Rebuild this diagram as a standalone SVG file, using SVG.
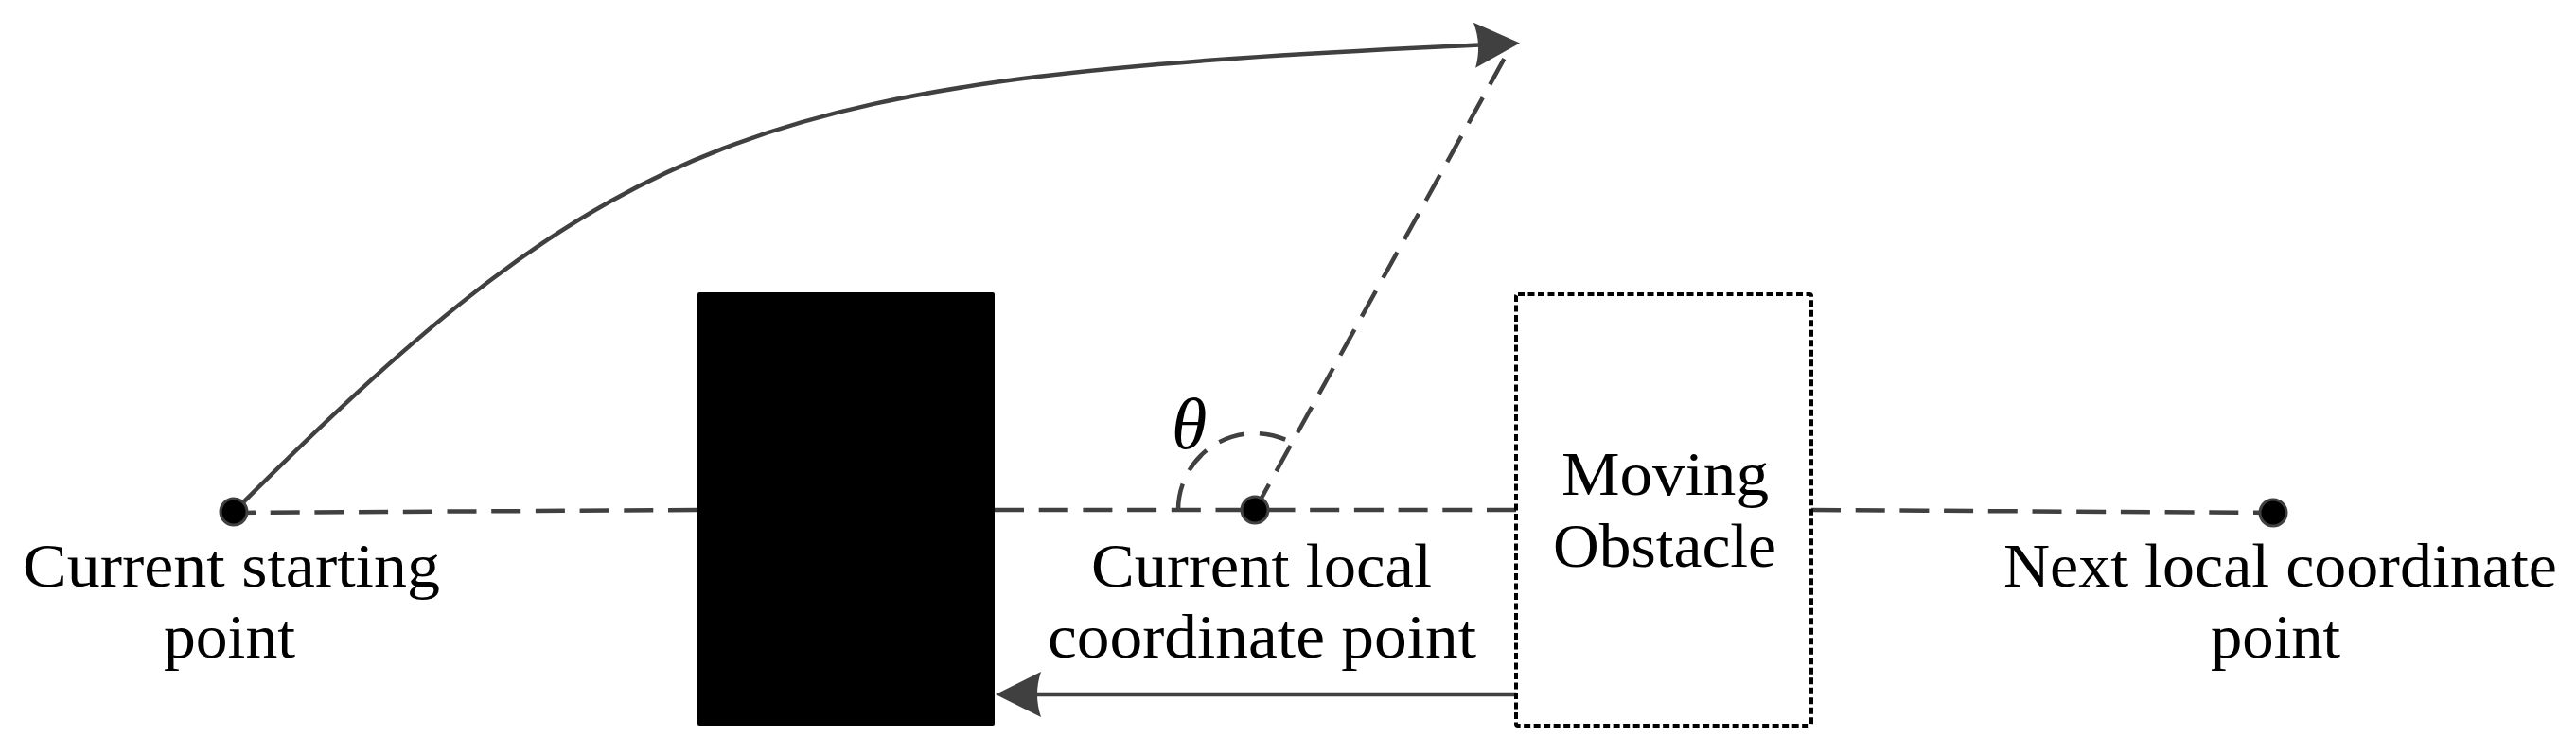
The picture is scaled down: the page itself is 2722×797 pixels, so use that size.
<svg xmlns="http://www.w3.org/2000/svg" width="2722" height="797" viewBox="0 0 2722 797">
  <style>
    .lbl { font-family: "Liberation Serif", "Times New Roman", serif; font-size: 66px; fill: #000; }
    .th { font-family: "Liberation Serif", "Times New Roman", serif; font-size: 76px; font-style: italic; fill: #000; }
    .dash { fill: none; stroke: #404040; stroke-width: 4.5; stroke-dasharray: 31 15.7; }
    .solid { fill: none; stroke: #404040; stroke-width: 4.5; }
    .pt { fill: #000; stroke: #404040; stroke-width: 3; }
  </style>
  <defs>
    <marker id="arr" markerUnits="userSpaceOnUse" markerWidth="52" markerHeight="52" viewBox="0 -26 52 52" refX="5" refY="0" orient="auto" overflow="visible">
      <path d="M0,-24 L48,0 L0,24 Q8,0 0,-24 Z" fill="#404040"/>
    </marker>
  </defs>
  <rect width="2722" height="797" fill="#fff"/>

  <g id="connectors">
    <path id="trajectory" class="solid" d="M247,541 C660,128 807,82 1563,47.5" marker-end="url(#arr)"/>
    <line class="dash" x1="737" y1="539" x2="248" y2="542"/>
    <line class="dash" x1="1051" y1="539" x2="1326" y2="539"/>
    <line class="dash" x1="1602" y1="539" x2="1326" y2="539"/>
    <line class="dash" x1="1914" y1="539" x2="2402" y2="542"/>
    <line id="heading" class="dash" x1="1326" y1="539" x2="1595" y2="52"/>
    <path id="angle-arc" class="dash" d="M1245,539 A81,81 0 0 1 1365.2,468.1" style="stroke-dasharray: 28 16"/>
    <line id="obstacle-motion" class="solid" x1="1602" y1="734" x2="1095" y2="734" marker-end="url(#arr)"/>
  </g>

  <g id="static-obstacle">
    <rect x="737" y="309" width="314" height="458" rx="2" fill="#000"/>
  </g>

  <g id="moving-obstacle">
    <rect x="1602" y="311" width="312" height="456" rx="2" fill="none" stroke="#000" stroke-width="4" stroke-dasharray="7 3.5"/>
    <text class="lbl" x="1650" y="523" textLength="219" lengthAdjust="spacingAndGlyphs">Moving</text>
    <text class="lbl" x="1641" y="599" textLength="236" lengthAdjust="spacingAndGlyphs">Obstacle</text>
  </g>

  <g id="current-start">
    <circle class="pt" cx="247" cy="541" r="14"/>
    <text class="lbl" x="24" y="620" textLength="441" lengthAdjust="spacingAndGlyphs">Current starting</text>
    <text class="lbl" x="173" y="695" textLength="139" lengthAdjust="spacingAndGlyphs">point</text>
  </g>

  <g id="current-local">
    <circle class="pt" cx="1326" cy="539" r="14"/>
    <text class="lbl" x="1153" y="620" textLength="360" lengthAdjust="spacingAndGlyphs">Current local</text>
    <text class="lbl" x="1107" y="695" textLength="453" lengthAdjust="spacingAndGlyphs">coordinate point</text>
  </g>

  <g id="theta-label">
    <text class="th" x="1238" y="474">θ</text>
  </g>

  <g id="next-local">
    <circle class="pt" cx="2402" cy="542" r="14"/>
    <text class="lbl" x="2117" y="620" textLength="585" lengthAdjust="spacingAndGlyphs">Next local coordinate</text>
    <text class="lbl" x="2336" y="695" textLength="137" lengthAdjust="spacingAndGlyphs">point</text>
  </g>
</svg>
